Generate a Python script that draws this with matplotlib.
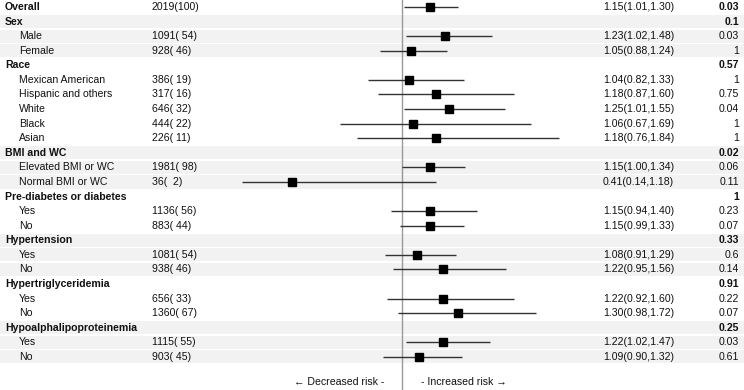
import matplotlib
matplotlib.use("Agg")
import matplotlib.pyplot as plt
from matplotlib.patches import Rectangle

plt.rcParams["font.family"] = ["Liberation Sans", "DejaVu Sans"]

labels = ["Overall", "Sex", "Male", "Female", "Race", "Mexican American",
          "Hispanic and others", "White", "Black", "Asian", "BMI and WC",
          "Elevated BMI or WC", "Normal BMI or WC", "Pre-diabetes or diabetes",
          "Yes", "No", "Hypertension", "Yes", "No", "Hypertriglyceridemia",
          "Yes", "No", "Hypoalphalipoproteinemia", "Yes", "No"]
headers = [True, True, False, False, True, False, False, False, False, False,
           True, False, False, True, False, False, True, False, False, True,
           False, False, True, False, False]
n_text = ["2019(100)", "", "1091( 54)", "928( 46)", "", "386( 19)", "317( 16)",
          "646( 32)", "444( 22)", "226( 11)", "", "1981( 98)", "36(  2)", "",
          "1136( 56)", "883( 44)", "", "1081( 54)", "938( 46)", "", "656( 33)",
          "1360( 67)", "", "1115( 55)", "903( 45)"]
est = [1.15, None, 1.23, 1.05, None, 1.04, 1.18, 1.25, 1.06, 1.18, None, 1.15, 0.41,
       None, 1.15, 1.15, None, 1.08, 1.22, None, 1.22, 1.30, None, 1.22, 1.09]
lo = [1.01, None, 1.02, 0.88, None, 0.82, 0.87, 1.01, 0.67, 0.76, None, 1.00, 0.14,
      None, 0.94, 0.99, None, 0.91, 0.95, None, 0.92, 0.98, None, 1.02, 0.90]
hi = [1.30, None, 1.48, 1.24, None, 1.33, 1.60, 1.55, 1.69, 1.84, None, 1.34, 1.18,
      None, 1.40, 1.33, None, 1.29, 1.56, None, 1.60, 1.72, None, 1.47, 1.32]
p_text = ["0.03", "0.1", "0.03", "1", "0.57", "1", "0.75", "0.04", "1", "1", "0.02",
          "0.06", "0.11", "1", "0.23", "0.07", "0.33", "0.6", "0.14", "0.91", "0.22",
          "0.07", "0.25", "0.03", "0.61"]

W, H = 744, 390
pitch = 14.58
top = 7 / pitch
fig = plt.figure(figsize=(W / 100, H / 100), dpi=100)

# table layer: x in pixels, y in row units
bg = fig.add_axes([0, 0, 1, 1])
bg.set_xlim(0, W)
bg.set_ylim(H / pitch - top, -top)
bg.axis("off")

# forest layer: linear OR scale, 1.0 at x=402 px, ~186.5 px per unit
scale = 186.5
fx = fig.add_axes([0, 0, 1, 1], facecolor="none")
fx.set_xlim(-402 / scale + 1, (W - 402) / scale + 1)
fx.set_ylim(H / pitch - top, -top)
fx.axis("off")

group = -1
for i, lab in enumerate(labels):
    if headers[i]:
        group += 1
    if group % 2 == 1:
        bg.add_patch(Rectangle((0, i - 0.45), W, 0.9, facecolor="#f2f2f2",
                               edgecolor="none", zorder=0))
    bold = headers[i]
    bg.text(5 if bold else 19, i, lab, fontsize=7.6, va="center", ha="left",
            fontweight="bold" if bold else "normal", color="#111111")
    bg.text(152, i, n_text[i], fontsize=7.6, va="center", ha="left", color="#111111")
    if est[i] is not None:
        bg.text(603, i, f"{est[i]:.2f}({lo[i]:.2f},{hi[i]:.2f})", fontsize=7.6,
                va="center", ha="left", color="#111111")
    bg.text(739, i, p_text[i], fontsize=7.6, va="center", ha="right",
            fontweight="bold" if (bold or i == 0) else "normal", color="#111111")

fx.axvline(1.0, color="#999999", lw=1.0, zorder=1)
for i in range(len(labels)):
    if est[i] is None:
        continue
    fx.plot([lo[i], hi[i]], [i, i], color="#333333", lw=1.0, zorder=2,
            solid_capstyle="butt")
    fx.plot(est[i], i, marker="s", ms=5.2, color="black", zorder=3)

bg.text(384, 25.7, "\u2190 Decreased risk -", fontsize=7.6, ha="right", va="center",
        color="#111111")
bg.text(421, 25.7, "- Increased risk \u2192", fontsize=7.6, ha="left", va="center",
        color="#111111")

fig.savefig("out.png", dpi=100)
